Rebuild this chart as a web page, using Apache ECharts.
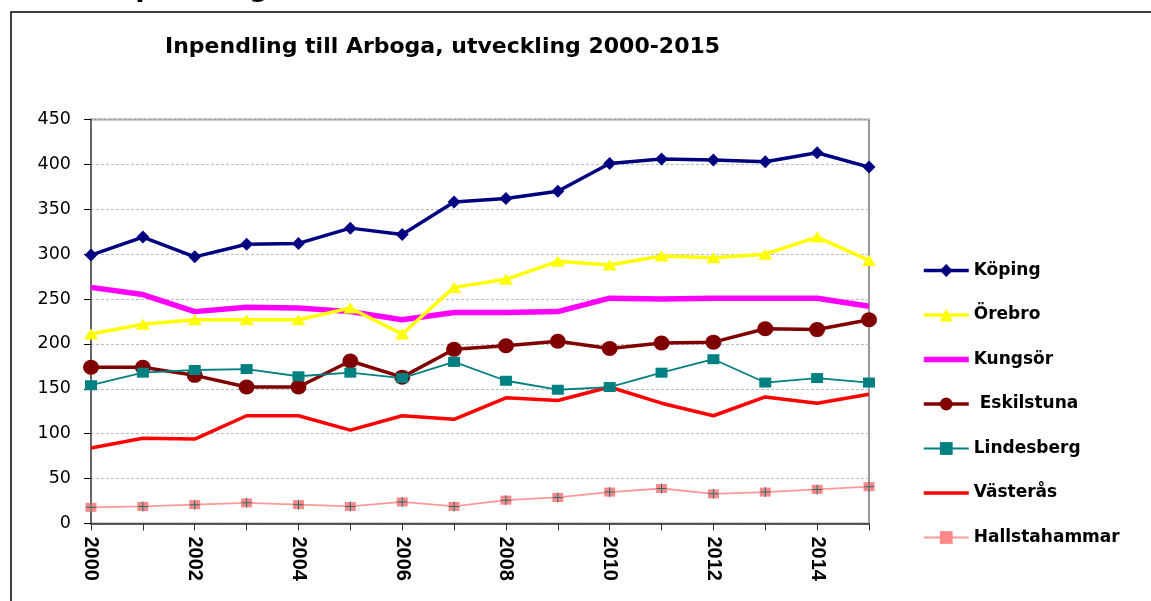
<!DOCTYPE html>
<html>
<head>
<meta charset="utf-8">
<script src="https://cdn.jsdelivr.net/npm/echarts@6/dist/echarts.min.js"></script>
<style>
html,body{margin:0;padding:0;background:#fff;}
#chart{width:1151px;height:601px;}
</style>
</head>
<body>
<div id="chart"></div>
<script>
const years = ['2000','2001','2002','2003','2004','2005','2006','2007','2008','2009','2010','2011','2012','2013','2014','2015'];
const yTicks = {min: 0, max: 450, interval: 50};
const koping     = [299,319,297,311,312,329,322,358,362,370,401,406,405,403,413,397];
const orebro     = [211,222,227,227,227,240,211,263,272,292,288,298,296,300,319,293];
const kungsor    = [263,255,236,241,240,236,227,235,235,236,251,250,251,251,251,242];
const eskilstuna = [174,174,165,152,152,181,163,194,198,203,195,201,202,217,216,227];
const lindesberg = [154,168,171,172,164,168,162,180,159,149,152,168,183,157,162,157];
const vasteras   = [84,95,94,120,120,104,120,116,140,137,152,134,120,141,134,144];
const hallsta    = [18,19,21,23,21,19,24,19,26,29,35,39,33,35,38,41];
const names = ['Köping','Örebro','Kungsör',' Eskilstuna','Lindesberg','Västerås','Hallstahammar'];
const titleText = 'Inpendling till Arboga, utveckling 2000-2015';
const headingText = 'Inpendling';

const chart = echarts.init(document.getElementById('chart'), null, {renderer: 'canvas'});
const plusPath = 'path://M0,4.5L10,4.5L10,5.5L0,5.5Z M4.5,0L5.5,0L5.5,10L4.5,10Z';

const legendWidths = [3.5, 3.5, 5.5, 3.5, 1.8, 3.5, 1.8];
const legendNoSymbol = [false, false, true, false, false, true, false];
const legendData = names.map((n, i) => {
  const item = {name: n, lineStyle: {width: legendWidths[i]}};
  if (legendNoSymbol[i]) item.itemStyle = {opacity: 0};
  return item;
});

const option = {
  animation: false,
  backgroundColor: '#fff',
  title: {
    text: titleText,
    left: 160, top: 31,
    textStyle: {fontFamily: 'DejaVu Sans', fontWeight: 'bold', fontSize: 22, color: '#000', lineHeight: 22}
  },
  graphic: [
    {type: 'rect', shape: {x: 11, y: 12, width: 1300, height: 800}, style: {fill: 'none', stroke: '#000', lineWidth: 1.5}, z: 0, silent: true},
    {type: 'text', x: 106, y: -11, style: {text: headingText, fontFamily: 'DejaVu Sans', fontWeight: 'bold', fontSize: 27, fill: '#000', verticalAlign: 'middle'}, silent: true}
  ],
  legend: {
    orient: 'vertical',
    left: 921, top: 262, padding: 0,
    itemWidth: 45, itemHeight: 16, itemGap: 27.5,
    data: legendData,
    textStyle: {fontFamily: 'DejaVu Sans', fontWeight: 'bold', fontSize: 17, color: '#000', lineHeight: 17},
    selectedMode: false
  },
  grid: {
    left: 91, right: 282, top: 119.5, bottom: 77.5,
    show: true, borderColor: '#999', borderWidth: 2, backgroundColor: 'transparent'
  },
  xAxis: {
    type: 'category', data: years, boundaryGap: false,
    axisLine: {lineStyle: {color: '#333', width: 1.5}},
    axisTick: {show: true, interval: 0, length: 7, lineStyle: {color: '#333', width: 1}},
    axisLabel: {interval: 1, rotate: -90, margin: 13, fontFamily: 'Liberation Sans', fontWeight: 'bold', fontSize: 20, color: '#000'},
    splitLine: {show: false}
  },
  yAxis: {
    type: 'value', min: yTicks.min, max: yTicks.max, interval: yTicks.interval,
    axisLine: {show: true, lineStyle: {color: '#666', width: 2}},
    axisTick: {show: true, length: 7, lineStyle: {color: '#000', width: 1}},
    axisLabel: {margin: 20, fontFamily: 'DejaVu Sans', fontSize: 17.5, color: '#000'},
    splitLine: {show: true, lineStyle: {color: '#bbb', width: 1, type: [3, 2]}}
  },
  series: [
    {name: names[0], type: 'line', data: koping, color: '#000080', symbol: 'diamond', symbolSize: [13, 13], showAllSymbol: true,
     lineStyle: {width: 3.5, color: '#000080'}, itemStyle: {color: '#000080'}, z: 7},
    {name: names[1], type: 'line', data: orebro, color: '#FFFF00', symbol: 'triangle', symbolSize: [14, 11], showAllSymbol: true,
     lineStyle: {width: 3.5, color: '#FFFF00'}, itemStyle: {color: '#FFFF00'}, z: 6},
    {name: names[2], type: 'line', data: kungsor, color: '#FF00FF', symbol: 'none',
     lineStyle: {width: 5.5, color: '#FF00FF'}, itemStyle: {color: '#FF00FF'}, z: 5},
    {name: names[3], type: 'line', data: eskilstuna, color: '#800000', symbol: 'circle', symbolSize: [16, 15], showAllSymbol: true,
     lineStyle: {width: 3.5, color: '#800000'}, itemStyle: {color: '#800000'}, z: 4},
    {name: names[4], type: 'line', data: lindesberg, color: '#008080', symbol: 'rect', symbolSize: [12, 10], showAllSymbol: true,
     lineStyle: {width: 1.8, color: '#008080'}, itemStyle: {color: '#008080'}, z: 5},
    {name: names[5], type: 'line', data: vasteras, color: '#FF0000', symbol: 'none',
     lineStyle: {width: 3.5, color: '#FF0000'}, itemStyle: {color: '#FF0000'}, z: 3},
    {name: names[6], type: 'line', data: hallsta, color: '#FF8888', symbol: 'rect', symbolSize: [11, 9], showAllSymbol: true,
     lineStyle: {width: 1.8, color: '#FF9999'}, itemStyle: {color: '#FF8888'}, z: 3},
    {name: 'Hallstahammar_plus', type: 'line', data: hallsta, symbol: plusPath, symbolSize: [10, 10], showAllSymbol: true,
     lineStyle: {width: 0, opacity: 0}, itemStyle: {color: '#1f6f6f'}, z: 4, silent: true, legendHoverLink: false}
  ]
};
chart.setOption(option);
</script>
</body>
</html>
